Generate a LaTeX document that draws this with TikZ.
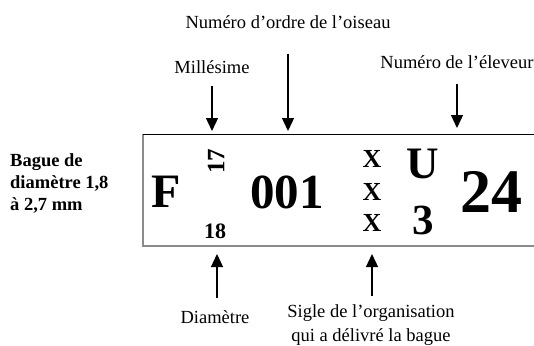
\documentclass[tikz,border=0pt]{standalone}
\usepackage{fontspec}
\setmainfont{Liberation Serif}
\usetikzlibrary{arrows.meta}

\begin{document}
\begin{tikzpicture}[x=1pt, y=-1pt,
  every node/.style={inner sep=0pt},
  caption/.style={font=\fontsize{18.5}{24}\selectfont},
  mark/.style={font=\bfseries\fontsize{#1}{#1}\selectfont},
  arr/.style={-{Triangle[width=12pt,length=13pt]}, line width=1.3pt}]
  \useasboundingbox (0,0) rectangle (534,345);

  % ring outline
  \draw[black!45, line width=1.6pt] (143,134) -- (143,246) -- (534,246);
  \draw[line width=1pt] (143,134) -- (534,134);

  % side note
  \node[anchor=west, align=left, font=\bfseries\fontsize{18.5}{22}\selectfont] (size) at (10,184)
    {Bague de\\diamètre 1,8\\à 2,7 mm};

  % ring marks
  \node[mark=48] (F) at (166,192) {F};
  \node[mark=25, rotate=90] (yr) at (216,161) {17};
  \node[mark=22] (dia) at (215,231) {18};
  \node[mark=49] (num) at (287,192) {001};
  \node[mark=26] (x1) at (372,159) {X};
  \node[mark=26] (x2) at (372,192) {X};
  \node[mark=26] (x3) at (372,223) {X};
  \node[mark=45] (U) at (423,164) {U};
  \node[mark=43] (n3) at (423,220) {3};
  \node[mark=62] (br) at (491,192) {24};

  % captions
  \node[caption] (order) at (288,22) {Numéro d’ordre de l’oiseau};
  \node[caption] (year) at (212,67) {Millésime};
  \node[caption] (breeder) at (457,62) {Numéro de l’éleveur};
  \node[caption] (diam) at (215,317) {Diamètre};
  \node[caption, align=center] (org) at (371,325) {Sigle de l’organisation\\qui a délivré la bague};

  % arrow tips
  \coordinate (yrT) at (212,131);
  \coordinate (orderT) at (288,131);
  \coordinate (breederT) at (457,128);
  \coordinate (diamT) at (217,254);
  \coordinate (orgT) at (372,254);

  \draw[arr, shorten <=12pt] (year) -- (yrT);
  \draw[arr, shorten <=25pt] (order) -- (orderT);
  \draw[arr, shorten <=15pt] (breeder) -- (breederT);
  \draw[arr, shorten <=12pt] (diam.north -| diamT) -- (diamT);
  \draw[arr, shorten <=8pt] (org.north -| orgT) -- (orgT);
\end{tikzpicture}
\end{document}
